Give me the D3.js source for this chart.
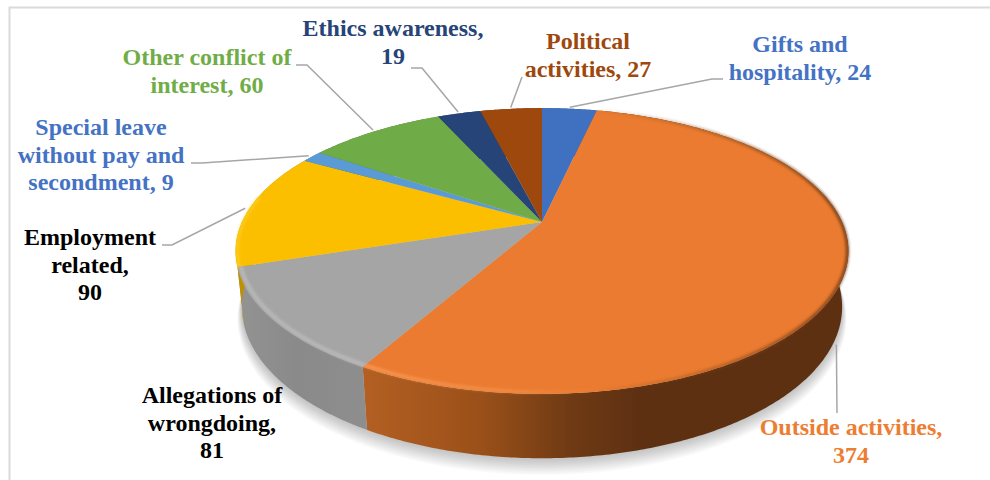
<!DOCTYPE html>
<html>
<head>
<meta charset="utf-8">
<script src="https://cdn.jsdelivr.net/npm/d3@7"></script>
<style>
  html, body { margin: 0; padding: 0; background: #fff; }
  svg { display: block; }
  text { font-family: "Liberation Serif", "Times New Roman", serif; font-weight: 700; font-size: 24px; text-anchor: middle; }
</style>
</head>
<body>
<div id="chart"></div>
<script>
// Ethics enquiries by category, clockwise from twelve o'clock.
const categories = [
  "Gifts and hospitality", "Outside activities", "Allegations of wrongdoing",
  "Employment related", "Special leave without pay and secondment",
  "Other conflict of interest", "Ethics awareness", "Political activities"
];
const counts = [24, 374, 81, 90, 9, 60, 19, 27];

const topColors   = ["#4070C0", "#EA7B30", "#A5A5A5", "#FCBF00", "#5B9BD5", "#6FAB46", "#264478", "#9E480E"];
const labelColors = ["#4472C4", "#ED7D31", "#000000", "#000000", "#4472C4", "#70AD47", "#264478", "#9E480E"];

// Wrapped label rows; {v} stands for the slice's count.
const labelRows = [
  ["Gifts and", "hospitality, {v}"],
  ["Outside activities,", "{v}"],
  ["Allegations of", "wrongdoing,", "{v}"],
  ["Employment", "related,", "{v}"],
  ["Special leave", "without pay and", "secondment, {v}"],
  ["Other conflict of", "interest, {v}"],
  ["Ethics awareness,", "{v}"],
  ["Political", "activities, {v}"]
];

const width = 990, height = 480;

// Where each label sits, and the bend of its leader line.
const labelPlace = [
  { x: 800, y: 52,  leader: [[712, 79], [723, 79]] },
  { x: 851, y: 435, leader: [[837, 413]], z: 1.2, r: 1 },
  { x: 212, y: 403, leader: null },
  { x: 90,  y: 245, leader: [[172, 245], [162, 245]] },
  { x: 101, y: 135, leader: [[202, 163], [191, 163]] },
  { x: 207, y: 65,  leader: [[307, 65], [296, 65]] },
  { x: 393, y: 36,  leader: [[422, 68], [411, 68]] },
  { x: 588, y: 49,  leader: [[522, 77]] }
];

// Tilted-disc projection: a unit circle seen in perspective, z runs down the wall.
const cx = 542, cy = 222;
const scaleX = 300, scaleY = 137, wallDrop = 56, tilt = 0.203, shrink = 0.02;
function project(angle, r, z) {
  const X = r * Math.sin(angle), Y = -r * Math.cos(angle);
  const w = 1 - tilt * Y + shrink * z;
  return [cx + X * scaleX / w, cy + (Y * scaleY + z * wallDrop) / w];
}

function arcPoints(a0, a1, r, z) {
  const n = Math.max(2, Math.ceil((a1 - a0) / 0.01));
  return d3.range(n + 1).map(i => project(a0 + (a1 - a0) * i / n, r, z));
}

const pie = d3.pie().sort(null).value(d => d)(counts);
const line = d3.line();

const svg = d3.select("#chart").append("svg").attr("width", width).attr("height", height);
const defs = svg.append("defs");

const blur = (id, dev) => defs.append("filter").attr("id", id)
  .attr("x", "-10%").attr("y", "-20%").attr("width", "120%").attr("height", "140%")
  .append("feGaussianBlur").attr("stdDeviation", dev);
blur("rimBlur", 1.8);
blur("edgeBlur", 1.4);

const xGradient = (id, stops) => {
  const g = defs.append("linearGradient").attr("id", id).attr("gradientUnits", "userSpaceOnUse")
    .attr("x1", 236).attr("x2", 848).attr("y1", 0).attr("y2", 0);
  stops.forEach(([o, c, a]) => g.append("stop").attr("offset", o).attr("stop-color", c).attr("stop-opacity", a === undefined ? 1 : a));
};
xGradient("wallOrange", [[0.2, "#B56023"], [0.4, "#9A5019"], [0.55, "#6E3A14"], [0.66, "#5E3012"], [1, "#5E3012"]]);
xGradient("wallGray", [[0, "#939393"], [0.1, "#8A8A8A"], [0.22, "#8E8E8E"]]);
xGradient("glintOrange", [[0.2, "#FB9F5E", 1], [0.45, "#F89550", 0.8], [0.62, "#EE8238", 0]]);
xGradient("rimOrange", [[0.58, "#7A4217", 0], [0.85, "#7A4217", 0.75], [1, "#5E3012", 1]]);

const wallFill = ["#2F5597", "url(#wallOrange)", "url(#wallGray)", "#BF9000", "#4A7CAB", "#558235", "#1C3358", "#763608"];

// Frame around the chart area
svg.append("path")
  .attr("d", `M${width},7.5 H9.5 V${height}`)
  .attr("fill", "none").attr("stroke", "#DADADA").attr("stroke-width", 2);

// Ground shadow: stacked translucent shells fade out away from the disc
svg.append("g").selectAll("path").data(d3.range(1, 11)).join("path")
  .attr("d", s => line(arcPoints(0, 2 * Math.PI, 1 + 0.0018 * s, 1 + 0.02 * s)) + "Z")
  .attr("fill", "#000").attr("opacity", 0.022);

// Disc wall
svg.append("g").selectAll("path").data(pie).join("path")
  .attr("d", d => line(arcPoints(d.startAngle, d.endAngle, 1, 0)
    .concat(arcPoints(d.startAngle, d.endAngle, 1, 1).reverse())) + "Z")
  .attr("fill", (d, i) => wallFill[i]);

// Disc top
svg.append("g").selectAll("path").data(pie).join("path")
  .attr("d", d => line([project(0, 0, 0)].concat(arcPoints(d.startAngle, d.endAngle, 1, 0))) + "Z")
  .attr("fill", (d, i) => topColors[i]);

// Bevel: soft dark edge to the right, glint along the near rim
const orange = pie[1], gray = pie[2], yellow = pie[3];
svg.append("path")
  .attr("d", line(arcPoints(orange.startAngle, orange.endAngle, 0.997, 0)))
  .attr("fill", "none").attr("stroke", "url(#rimOrange)").attr("stroke-width", 2.5)
  .attr("filter", "url(#edgeBlur)");
svg.append("path")
  .attr("d", line(arcPoints(orange.startAngle + 2.2, orange.endAngle, 0.99, 0)))
  .attr("fill", "none").attr("stroke", "url(#glintOrange)").attr("stroke-width", 2.5)
  .attr("filter", "url(#rimBlur)");
svg.append("path")
  .attr("d", line(arcPoints(gray.startAngle, gray.endAngle, 0.99, 0)))
  .attr("fill", "none").attr("stroke", "#BDBDBD").attr("stroke-width", 3)
  .attr("filter", "url(#rimBlur)");
svg.append("path")
  .attr("d", line(arcPoints(yellow.startAngle, yellow.startAngle + 0.5, 0.995, 0)))
  .attr("fill", "none").attr("stroke", "#FFD22E").attr("stroke-width", 2)
  .attr("filter", "url(#rimBlur)");

// Leader lines start on the slice's mid-angle
svg.append("g").selectAll("path").data(pie.filter((d, i) => labelPlace[i].leader)).join("path")
  .attr("d", d => {
    const place = labelPlace[d.index];
    return line([project((d.startAngle + d.endAngle) / 2, place.r || 1.015, place.z || 0)].concat(place.leader));
  })
  .attr("fill", "none").attr("stroke", "#A6A6A6").attr("stroke-width", 1.5);

// Category labels
const rowHeight = 27.5;
const labels = svg.append("g").selectAll("text").data(pie).join("text")
  .attr("x", (d, i) => labelPlace[i].x)
  .attr("y", (d, i) => labelPlace[i].y)
  .attr("fill", (d, i) => labelColors[i]);
labels.selectAll("tspan").data(d => labelRows[d.index].map(r => ({ row: r.replace("{v}", d.value), x: labelPlace[d.index].x })))
  .join("tspan")
  .attr("x", d => d.x)
  .attr("dy", (d, i) => i ? rowHeight : 0)
  .text(d => d.row);
</script>
</body>
</html>
